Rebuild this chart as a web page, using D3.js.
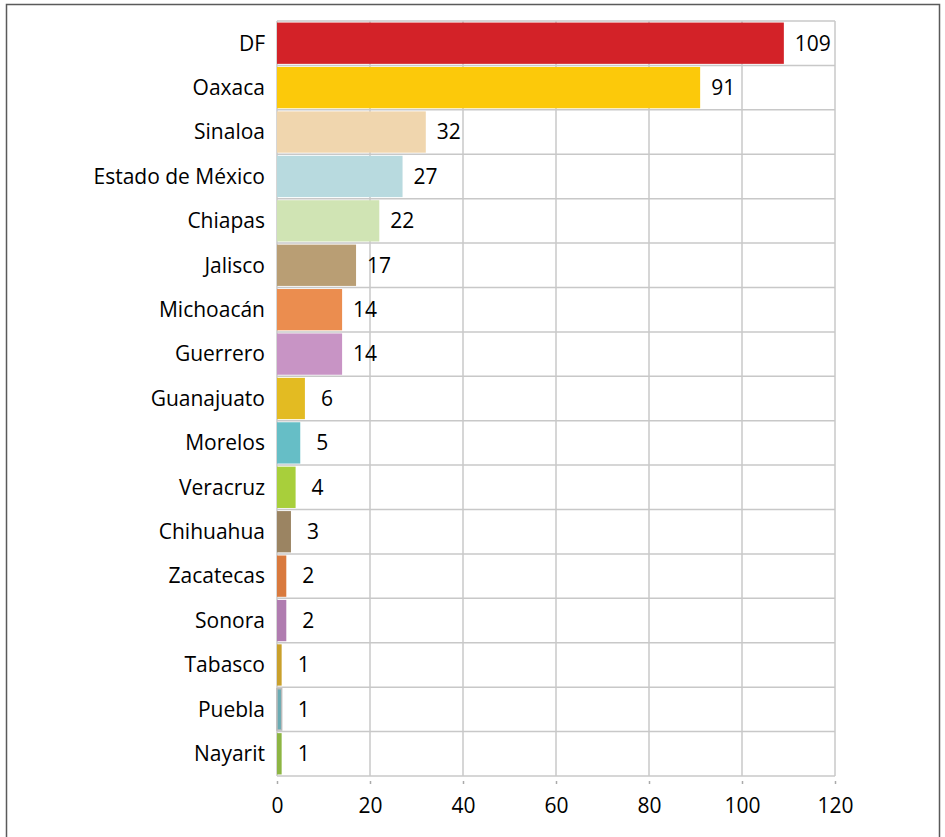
<!DOCTYPE html>
<html>
<head>
<meta charset="utf-8">
<script src="https://cdn.jsdelivr.net/npm/d3@7"></script>
<style>
  body { margin: 0; background: #fff; }
  svg { display: block; font-family: "Open Sans", sans-serif; }
</style>
</head>
<body>
<div class="chart"></div>
<script>
var states = ["DF", "Oaxaca", "Sinaloa", "Estado de México", "Chiapas", "Jalisco", "Michoacán",
  "Guerrero", "Guanajuato", "Morelos", "Veracruz", "Chihuahua", "Zacatecas", "Sonora",
  "Tabasco", "Puebla", "Nayarit"];
var counts = [109, 91, 32, 27, 22, 17, 14, 14, 6, 5, 4, 3, 2, 2, 1, 1, 1];
var barColors = ["#d32228", "#fcc90a", "#f0d6ae", "#b8dadf", "#d0e4b4", "#b99e74", "#eb8d4f",
  "#c894c5", "#e3bb22", "#66bec6", "#a8cf3b", "#9b8462", "#d97a3e", "#b07cb0",
  "#c9a02c", "#6aabb3", "#8db543"];
var xTicks = [0, 20, 40, 60, 80, 100, 120];

var svgWidth = 945;
var svgHeight = 837;
var margin = { top: 21, right: 110, bottom: 61, left: 277 };
var width = svgWidth - margin.left - margin.right;
var height = svgHeight - margin.top - margin.bottom;

var root = d3.select(".chart")
  .append("svg")
  .attr("width", svgWidth)
  .attr("height", svgHeight);

// outer frame
root.append("path")
  .attr("d", "M6.5,840 V4.5 H939.5 V840")
  .attr("fill", "none")
  .attr("stroke", "#5a5a5a")
  .attr("stroke-width", 1.5);

var chart = root.append("g")
  .attr("transform", "translate(" + margin.left + "," + margin.top + ")");

var xScale = d3.scaleLinear().domain([0, 120]).range([0, width]);
var yScale = d3.scaleBand().domain(states).range([0, height]).paddingInner(0.07).paddingOuter(0.035);

var gridColor = "#c8c8c8";

// vertical grid lines
chart.selectAll(".vgrid")
  .data(xTicks)
  .enter().append("line")
    .attr("x1", function(d) { return xScale(d); })
    .attr("x2", function(d) { return xScale(d); })
    .attr("y1", 0)
    .attr("y2", height)
    .attr("stroke", gridColor)
    .attr("stroke-width", 1.5);

// horizontal grid lines between rows
var step = height / states.length;
chart.selectAll(".hgrid")
  .data(d3.range(states.length + 1))
  .enter().append("line")
    .attr("x1", 0)
    .attr("x2", width)
    .attr("y1", function(d) { return d * step; })
    .attr("y2", function(d) { return d * step; })
    .attr("stroke", gridColor)
    .attr("stroke-width", 1.5);

// bars
chart.selectAll(".bar")
  .data(states)
  .enter().append("rect")
    .attr("x", xScale(0))
    .attr("y", function(d) { return yScale(d); })
    .attr("width", function(d, i) { return xScale(counts[i]) - xScale(0); })
    .attr("height", yScale.bandwidth())
    .attr("fill", function(d, i) { return barColors[i]; })
    .attr("stroke", function(d) { return d === "Puebla" ? "#bbbbbb" : "none"; })
    .attr("stroke-width", 1.5);

// value labels
chart.selectAll(".val")
  .data(states)
  .enter().append("text")
    .attr("x", function(d, i) { return xScale(counts[i]) + (counts[i] < 10 ? 16 : 11); })
    .attr("y", function(d) { return yScale(d) + yScale.bandwidth() / 2; })
    .attr("dy", "0.35em")
    .attr("font-size", "21px")
    .attr("fill", "#000")
    .text(function(d, i) { return counts[i]; });

// category labels
chart.selectAll(".cat")
  .data(states)
  .enter().append("text")
    .attr("x", -12)
    .attr("y", function(d) { return yScale(d) + yScale.bandwidth() / 2; })
    .attr("dy", "0.35em")
    .attr("text-anchor", "end")
    .attr("font-size", "21px")
    .attr("fill", "#000")
    .text(function(d) { return d; });

// x axis
var bottomAxis = d3.axisBottom(xScale).tickValues(xTicks).tickSize(3).tickPadding(14);
var xAxis = chart.append("g")
  .attr("transform", "translate(0," + (height + 5) + ")")
  .call(bottomAxis);
xAxis.select(".domain").remove();
xAxis.selectAll(".tick line").attr("stroke", "#aaa").attr("stroke-width", 1.5);
xAxis.selectAll(".tick text")
  .attr("font-size", "21px")
  .attr("font-family", "Open Sans, sans-serif")
  .attr("fill", "#000");
</script>
</body>
</html>
